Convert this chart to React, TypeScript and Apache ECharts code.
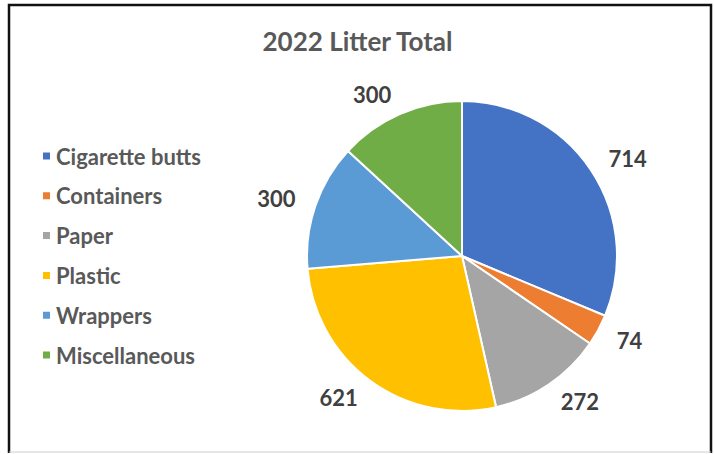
import React, { useEffect, useRef } from "react";
import * as echarts from "echarts";

const categories = ["Cigarette butts", "Containers", "Paper", "Plastic", "Wrappers", "Miscellaneous"];
const values = [714, 74, 272, 621, 300, 300];
const colors = ["#4472C4", "#ED7D31", "#A5A5A5", "#FFC000", "#5B9BD5", "#70AD47"];
const labelPadTop = [0, 4, 8, 18, 0, 0];
const titleText = "2022 Litter Total";

export default function App() {
  const ref = useRef<HTMLDivElement>(null);
  useEffect(() => {
    if (!ref.current) return;
    const chart = echarts.init(ref.current, undefined, { renderer: "svg" });
    const font = "Lato, 'Open Sans', sans-serif";
    chart.setOption({
      animation: false,
      backgroundColor: "#ffffff",
      color: colors,
      title: {
        text: titleText,
        left: "center",
        top: 23,
        textStyle: { fontFamily: font, fontSize: 26, fontWeight: "bold", color: "#595959" },
      },
      legend: {
        orient: "vertical",
        left: 36,
        top: 139,
        itemWidth: 9,
        itemHeight: 9,
        itemGap: 15.8,
        icon: "rect",
        textStyle: { fontFamily: font, fontSize: 22, fontWeight: "bold", color: "#595959", lineHeight: 24, padding: [0, 0, 0, 0] },
        data: categories,
      },
      graphic: [
        { type: "polyline", shape: { points: [[9, 453], [9, 5], [711, 5], [711, 453]] }, style: { fill: "none", stroke: "#111", lineWidth: 2.5 } },
        { type: "line", shape: { x1: 9, y1: 452, x2: 711, y2: 452 }, style: { stroke: "#cccccc", lineWidth: 1 } },
      ],
      series: [
        {
          type: "pie",
          center: [462, 256],
          radius: 155,
          startAngle: 90,
          clockwise: true,
          avoidLabelOverlap: false,
          itemStyle: { borderColor: "#ffffff", borderWidth: 2 },
          label: {
            show: true,
            position: "outside",
            formatter: "{c}",
            distanceToLabelLine: 0,
            fontFamily: font,
            fontSize: 22,
            fontWeight: "bold",
            color: "#404040",
          },
          labelLine: { show: false, length: 21, length2: 0 },
          data: categories.map((n, i) => ({
            name: n,
            value: values[i],
            label: { padding: [labelPadTop[i], 0, 0, 0] },
          })),
        },
      ],
    });
    return () => chart.dispose();
  }, []);
  return <div ref={ref} style={{ position: "fixed", left: 0, top: 0, width: 715, height: 454 }} />;
}
